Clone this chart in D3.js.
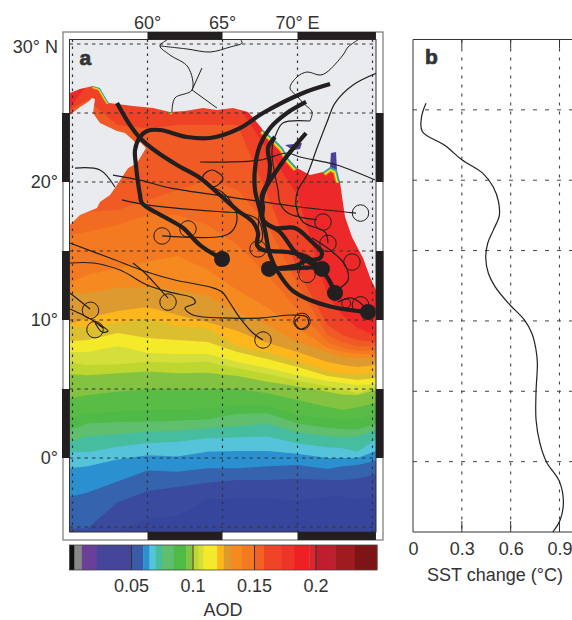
<!DOCTYPE html>
<html>
<head>
<meta charset="utf-8">
<script src="https://cdn.jsdelivr.net/npm/d3@7/dist/d3.min.js"></script>
<style>
html, body { margin: 0; padding: 0; background: #fff; }
svg { display: block; }
text { font-family: "Liberation Sans", Arial, sans-serif; fill: #333; }
</style>
</head>
<body>
<svg width="572" height="620"></svg>
<script>
var contourLons = [54.83, 56, 58, 60, 62, 64, 66, 68, 70, 72, 73, 74, 75.23];

// latitude of each contour at contourLons, south to north
var aodContours = [
    [-5.3, -5.3, -5.3, -4.4, -4.2, -3.0, -2.9, -2.9, -3.1, -2.8, -2.8, -3.0, -2.7],
    [-5.1, -5.1, -3.2, -2.4, -2.1, -1.8, -1.6, -1.6, -1.5, -1.6, -1.6, -1.5, -1.2],
    [-2.8, -2.5, -1.7, -0.9, -1.0, -0.75, -0.75, -0.6, -0.5, -0.8, -0.6, -0.5, -0.2],
    [-0.75, -0.6, -0.1, 0.2, 0.1, 0.45, 0.5, 0.5, 0.3, 0, 0, 0, 0.5],
    [0.46, 0.41, 0.82, 1.06, 1.18, 1.43, 1.5, 1.55, 1.06, 0.77, 0.7, 0.46, 1.35],
    [1.18, 1.6, 1.74, 1.9, 1.98, 2.15, 2.3, 2.5, 1.84, 1.6, 1.5, 1.55, 2.03],
    [2.03, 2.5, 2.6, 2.63, 2.7, 2.8, 3.2, 3.24, 2.5, 2.2, 2.08, 2.08, 2.46],
    [2.87, 3.2, 3.36, 3.48, 3.5, 3.6, 3.8, 3.77, 3.1, 2.87, 2.75, 2.8, 3.24],
    [4.32, 4.57, 4.8, 5, 5, 5, 5, 4.7, 4.2, 3.7, 3.5, 3.67, 4],
    [6.09, 6, 6.14, 6.26, 6.14, 6.18, 5.94, 5.53, 5.2, 4.8, 4.6, 4.57, 4.93],
    [6.9, 6.74, 6.8, 6.98, 6.9, 6.98, 6.5, 6.08, 5.6, 5.2, 5.0, 4.7, 5.17],
    [7.68, 7.68, 8.12, 7.6, 7.54, 7.54, 6.96, 6.52, 6.0, 5.58, 5.43, 5.29, 5.36],
    [8.48, 8.55, 9.06, 8.7, 8.55, 8.4, 7.68, 7.17, 6.6, 5.94, 5.8, 5.65, 5.8],
    [9.57, 9.49, 9.78, 10.07, 9.57, 9.42, 8.12, 7.68, 7.03, 6.3, 6.16, 6.09, 6.23],
    [9.71, 10.14, 10.65, 10.94, 10.36, 9.86, 9.2, 8.33, 7.68, 6.96, 6.74, 6.6, 6.74],
    [11.96, 11.96, 12.32, 12.39, 12.17, 11.74, 10.58, 9.64, 8.4, 7.68, 7.32, 7.25, 7.25],
    [12.68, 13.26, 13.77, 14.2, 14.64, 13.62, 12.17, 10.87, 9.42, 7.97, 7.68, 7.54, 7.54],
    [16.16, 16.38, 16.88, 17.6, 17.6, 16.88, 15.43, 13.26, 10.72, 8.4, 7.97, 7.75, 7.75],
    [17.6, 17.83, 17.97, 18.7, 19.42, 20.14, 19.42, 16.88, 12.54, 8.9, 8.4, 8.1, 8.1],
    [25.2, 25.94, 24.13, 23.9, 24.13, 24.13, 24.13, 19.06, 13.62, 9.64, 8.9, 8.55, 8.4],
    [25.36, 27.03, 25.94, 25.94, 25.94, 25.94, 25.58, 22.32, 19.06, 11.8, 10.36, 9.42, 8.84]
];

// one colour below each contour, the last one above the top contour
var bandColors = ["#36469c", "#3a4a9f", "#3563ad", "#2b90cf", "#55c3da", "#45bd9e", "#60bf6e",
    "#4fba47", "#58bc45", "#84c341", "#bed730", "#d5df3c", "#f4ea2a", "#dcbf2e", "#fdb71d",
    "#dd9a2e", "#f58b20", "#f47a22", "#f26b23", "#f05a25", "#ee4126", "#ec2829"];

var colorbarBreaks = [0, .004, .01, .022, .05, .06, .065, .0697, .0752, .0847, .095, .1, .105,
    .109, .12, .1255, .131, .14, .15, .158, .172, .183, .195, .2, .216, .232, .25];
var colorbarColors = ["#111", "#888", "#693f98", "#45459c", "#3a5ba8", "#2b90cf", "#55c3da",
    "#45bd9e", "#60bf6e", "#50ba47", "#84c341", "#bed730", "#d5df3c", "#f4ea2a", "#fdb71d",
    "#dd9a2e", "#f58b20", "#f47a22", "#f26323", "#ef4527", "#ee3327", "#ed2024", "#d9272e",
    "#be1e2d", "#9e1c20", "#7d1416"];
var colorbarTicks = [0.05, 0.1, 0.15, 0.2];

var arabiaCoast = [[54.83, 24.86], [55.5, 25.43], [56.03, 25.8], [56.3, 26.09], [56.5, 26.01],
    [56.37, 25.0], [56.83, 24.28], [57.97, 23.7], [58.5, 23.55], [59.17, 22.9], [59.5, 22.9],
    [59.9, 22.46], [59.3, 21.38], [58.7, 21.0], [57.83, 19.57], [57.5, 19.06], [56.83, 18.55],
    [56.63, 18.12], [55.5, 17.6], [54.83, 16.88], [54, 16.88], [54, 24.86]];
var northCoast = [[54.83, 26.45], [55.5, 26.74], [56.37, 26.96], [56.83, 26.81], [57.17, 26.16],
    [57.43, 25.72], [59.03, 25.5], [60.37, 25.36], [61.5, 25.07], [62.5, 25.14], [63.7, 25.36],
    [64.63, 25.22], [65.7, 25.36], [66.7, 25.07], [67.17, 24.49], [67.7, 23.77], [68.5, 23.04],
    [69.03, 22.46], [69.37, 21.74], [69.97, 21.01], [70.83, 20.5], [71.7, 20.72], [72.17, 21.09],
    [72.63, 20.87], [72.83, 20], [72.97, 18.91], [73.17, 17.46], [73.63, 16.01], [74.37, 14.49],
    [74.83, 13.12], [75.23, 12.17], [76, 12.17], [76, 31], [54, 31], [54, 26.45]];

// bright rings of the contours squeezed against the coast
var coastFringes = [
    [[56.37, 26.96], [56.83, 26.81], [57.17, 26.16], [57.43, 25.72]],
    [[61.37, 25.14], [61.63, 25.07]],
    [[67.7, 23.77], [68.5, 23.04], [69.03, 22.46], [69.37, 21.74], [69.97, 21.01]],
    [[71.7, 20.72], [72.17, 21.09], [72.63, 20.87], [72.83, 20]]
];
var fringeColors = ["#f58b20", "#f4ea2a", "#50ba47", "#2b90cf"];
var fringeWidths = [9, 6.5, 4, 2];
var gulfPatches = [
    [[69.17, 22.68], [70.3, 22.83], [70.17, 22.39], [69.7, 22.3]],
    [[72.17, 21.09], [72.23, 22.1], [72.57, 22.17], [72.63, 20.87]]
];

var borders = [
    [[61.3, 30.29], [60.83, 29.86], [61.5, 29.2], [62.7, 28.33], [62.97, 26.67], [61.83, 26.09], [61.63, 25.07]],
    [[60.83, 29.86], [62.63, 29.64], [64.17, 29.42], [65.5, 29.78], [66.3, 30.07], [66.23, 30.29]],
    [[62.97, 26.67], [64.63, 25.36]],
    [[63.63, 28.26], [62.97, 26.67]],
    [[74.03, 30.29], [73.37, 29.78], [73.03, 29.2], [71.97, 27.97], [71.5, 27.75], [70.63, 27.97],
        [69.97, 27.61], [69.5, 26.81], [70.03, 26.16], [70.37, 25.72], [70.97, 25.07], [70.83, 24.42]]
];

var thinTracks = [
    [[57.7, 20.5], [59.5, 20.14], [61.5, 19.57], [65.5, 18.91], [70.17, 18.19], [73.9, 17.75]],
    [[58.3, 18.7], [60.03, 18.33], [65.03, 17.83], [66.17, 17.75], [67.37, 17.25], [67.63, 15.8], [67.17, 15.43]],
    [[60.97, 16.09], [65.03, 16.09], [65.7, 16.52], [65.97, 17.46], [65.63, 18.48], [64.97, 19.28],
        [63.83, 19.93], [63.7, 20.43], [64.3, 20.87], [65.03, 20.29], [64.43, 19.64], [63.7, 20.14]],
    [[59.03, 14.13], [59.83, 13.41], [60.7, 12.39], [61.37, 11.59]],
    [[54.83, 15.58], [57.5, 14.49], [59.97, 13.48], [61.83, 12.9], [64.17, 12.39], [64.97, 12.03],
        [65.5, 11.23], [66.17, 10.14], [67.03, 9.06], [67.7, 8.55]],
    [[54.83, 14.13], [56.37, 14.13], [58.17, 13.62], [59.97, 12.54], [61.7, 11.96], [63.03, 11.59],
        [63.17, 11.23], [62.5, 10.87], [63.03, 10.36], [65.5, 10.14], [67.5, 10.14], [69.7, 10.36],
        [70.63, 10.22], [70.7, 9.64], [70.17, 9.35], [69.83, 9.86], [70.17, 10.22]],
    [[54.83, 11.96], [56.17, 10.8]],
    [[54.83, 10.8], [55.7, 10.36], [56.63, 9.78], [57.37, 9.2], [56.97, 9.13], [56.5, 9.86], [57.03, 9.42], [56.77, 9.71]],
    [[70.83, 24.42], [69.03, 24.28], [68.63, 23.62], [68.3, 22.32], [68.5, 20.5], [68.7, 19.42],
        [68.83, 18.48], [69.37, 17.75], [71.3, 17.25]],
    [[75.3, 27.9], [73.7, 27.03], [72.5, 25.72], [71.97, 24.35], [71.3, 22.46], [70.63, 20.5],
        [70.03, 19.42], [69.9, 18.33], [70.37, 17.1], [71.83, 16.38], [72.03, 15.58]],
    [[70.97, 15.94], [72.17, 15.07], [73.17, 13.99], [73.37, 12.9], [72.83, 12.32]],
    [[63.5, 21.45], [67.5, 21.59], [69.3, 22.1], [70.17, 21.81], [72.63, 21.23], [75.17, 20.14]],
    [[67.37, 15.65], [67.63, 18.7], [68.97, 21.23], [70.17, 22.83]],
    [[70.17, 14.35], [70.63, 13.62]],
    [[72.7, 11.3], [73.63, 11.59], [74.7, 10.72]],
    [[55.17, 21.01], [56.83, 20.87], [57.83, 19.64]]
];

var thickTracks = [
    [[57.97, 25.72], [58.7, 24.35], [59.5, 23.19], [60.63, 22.17], [61.97, 21.23], [63.5, 20.29],
        [64.83, 19.06], [65.97, 17.97], [67.03, 17.1], [67.37, 16.3], [67.3, 15.43], [67.7, 15.07],
        [69.3, 14.93], [70.63, 14.57], [71.97, 13.12], [72.5, 11.96]],
    [[72.17, 27.1], [70.37, 26.45], [67.7, 25], [66.17, 23.91], [64.17, 23.19], [62.63, 23.26],
        [60.83, 23.77], [59.97, 23.7], [59.5, 23.26], [59.17, 22.32], [59.23, 21.23], [59.5, 19.06],
        [59.63, 18.48], [61.5, 17.25], [62.37, 16.67], [63.5, 15.43], [64.97, 14.42]],
    [[70.57, 25.8], [69.3, 25], [68.17, 23.91], [67.5, 22.68], [67.17, 21.01], [67.17, 19.42],
        [67.5, 17.97], [67.83, 16.52], [68.17, 14.71], [68.7, 13.48], [69.63, 12.17], [70.83, 11.45],
        [72.63, 10.87], [74.7, 10.58]],
    [[70.57, 23.55], [69.5, 22.17], [68.63, 20.87], [67.63, 19.06], [67.7, 18.19], [67.7, 17.25],
        [68.5, 16.67], [69.83, 16.67], [70.97, 15.65], [71.63, 14.86], [71.5, 14.49], [70.5, 14.28],
        [70.03, 13.99], [68.83, 13.77], [68.1, 13.7]],
    [[68.5, 23.26], [68.03, 22.46], [68.17, 21.23], [68.03, 20], [67.7, 19.06], [67.7, 17.25],
        [68.83, 16.38], [70.03, 14.71], [71.63, 13.7]],
    [[68.83, 13.7], [71.63, 13.84]]
];

var endDots = [[64.97, 14.42], [68.1, 13.7], [71.63, 13.7], [72.5, 11.96], [74.7, 10.58]];
// [lon, lat, radius in degrees of longitude]
var startRings = [[60.97, 16.09, .55], [62.7, 16.6, .55], [61.37, 11.3, .55], [56.2, 10.7, .55],
    [56.5, 9.3, .55], [67.7, 8.55, .55], [70.3, 9.9, .55], [74.2, 17.75, .55], [71.7, 17.1, .55],
    [72.03, 15.55, .55], [73.63, 14.2, .55], [67.37, 15.15, .55], [70.63, 13.3, .55],
    [73.25, 11.2, .3], [74.2, 11.1, .55]];

var sstLat = [25.47, 24.53, 23.46, 22.46, 21.45, 20.5, 19.5, 18.48, 17.49, 16.47, 15.52, 14.45,
    13.39, 12.44, 11.26, 10.07, 9.12, 8.06, 6.99, 5, 2.96, 1.3, -0.02, -1.42, -2.84, -4.15, -5];
var sstChange = [.08, .053, .057, .197, .30, .428, .494, .525, .53, .494, .459, .447,
    .463, .504, .586, .684, .73, .754, .764, .756, .756, .78, .82, .90, .924, .904, .859];

var lonTicks = [60, 65, 70];
var latTicks = [30, 20, 10, 0];
var gridLons = [55, 60, 65, 70, 75];
var gridLats = [30, 25, 20, 15, 10, 5, 0, -5];
var sstTicks = [0, 0.3, 0.6, 0.9];

var svg = d3.select("svg");

var x = d3.scaleLinear().domain([55, 75]).range([72.5, 372.5]);
var y = d3.scaleLinear().domain([-5, 30]).range([527, 44]);
var mapLeft = x(54.8), mapRight = 376, mapTop = 39.5, mapBottom = 532;

svg.append("clipPath").attr("id", "mapClip").append("rect")
    .attr("x", mapLeft).attr("y", mapTop)
    .attr("width", mapRight - mapLeft).attr("height", mapBottom - mapTop);

var map = svg.append("g").attr("clip-path", "url(#mapClip)");
var line = d3.line().x(d => x(d[0])).y(d => y(d[1]));
var smooth = d3.line().x(d => x(d[0])).y(d => y(d[1])).curve(d3.curveCatmullRom);

// paint from the north down, each band covers everything south of its contour
map.append("rect")
    .attr("x", mapLeft).attr("y", mapTop)
    .attr("width", mapRight - mapLeft).attr("height", mapBottom - mapTop)
    .attr("fill", bandColors[bandColors.length - 1]);

for (var i = aodContours.length - 1; i >= 0; i--) {
    var area = d3.area()
        .x((d, j) => x(contourLons[j]))
        .y0(mapBottom + 2)
        .y1(d => y(d));
    map.append("path")
        .attr("d", area(aodContours[i]))
        .attr("fill", bandColors[i]);
}

fringeColors.forEach(function(c, k) {
    map.selectAll(null).data(coastFringes).enter().append("path")
        .attr("d", line)
        .attr("fill", "none")
        .attr("stroke", c)
        .attr("stroke-width", (d, n) => n == 2 || n == 3 ? fringeWidths[k] : fringeWidths[k] * 0.6);
});

map.selectAll(null).data([arabiaCoast, northCoast]).enter().append("path")
    .attr("d", d => line(d) + "Z")
    .attr("fill", "#e9ebee");

map.selectAll(null).data(gulfPatches).enter().append("path")
    .attr("d", d => line(d) + "Z")
    .attr("fill", "#4d4199");

// dashed graticule
map.selectAll(null).data(gridLons).enter().append("line")
    .attr("x1", d => x(d)).attr("x2", d => x(d))
    .attr("y1", mapTop).attr("y2", mapBottom)
    .attr("stroke", "#333").attr("stroke-width", 1.2).attr("stroke-dasharray", "2.5 4.5");
map.selectAll(null).data(gridLats).enter().append("line")
    .attr("x1", mapLeft).attr("x2", mapRight)
    .attr("y1", d => y(d)).attr("y2", d => y(d))
    .attr("stroke", "#333").attr("stroke-width", 1).attr("stroke-dasharray", "3.5 4");

map.selectAll(null).data(borders).enter().append("path")
    .attr("d", smooth)
    .attr("fill", "none").attr("stroke", "#231f20").attr("stroke-width", 1);
map.selectAll(null).data(thinTracks).enter().append("path")
    .attr("d", smooth)
    .attr("fill", "none").attr("stroke", "#231f20").attr("stroke-width", 1.2);
map.selectAll(null).data(startRings).enter().append("circle")
    .attr("cx", d => x(d[0])).attr("cy", d => y(d[1]))
    .attr("r", d => x(d[2]) - x(0))
    .attr("fill", "none").attr("stroke", "#231f20").attr("stroke-width", 1);
map.selectAll(null).data(thickTracks).enter().append("path")
    .attr("d", smooth)
    .attr("fill", "none").attr("stroke", "#231f20").attr("stroke-width", 4.2);
map.selectAll(null).data(endDots).enter().append("circle")
    .attr("cx", d => x(d[0])).attr("cy", d => y(d[1]))
    .attr("r", 8)
    .attr("fill", "#231f20");

// map frame with the alternating black and white bars
svg.append("rect")
    .attr("x", 63).attr("y", 32).attr("width", 320).attr("height", 508)
    .attr("fill", "none").attr("stroke", "#777").attr("stroke-width", 1.2);
svg.append("rect")
    .attr("x", mapLeft).attr("y", mapTop)
    .attr("width", mapRight - mapLeft).attr("height", mapBottom - mapTop)
    .attr("fill", "none").attr("stroke", "#333").attr("stroke-width", 1);

[[60, 65], [70, 75.23]].forEach(function(d) {
    svg.append("rect").attr("x", x(d[0])).attr("y", 32)
        .attr("width", x(d[1]) - x(d[0])).attr("height", 7.5).attr("fill", "#231f20");
    svg.append("rect").attr("x", x(d[0])).attr("y", mapBottom)
        .attr("width", x(d[1]) - x(d[0])).attr("height", 8).attr("fill", "#231f20");
});
[[25, 20], [15, 10], [5, 0]].forEach(function(d) {
    svg.append("rect").attr("x", 62).attr("y", y(d[0]))
        .attr("width", mapLeft - 62).attr("height", y(d[1]) - y(d[0])).attr("fill", "#231f20");
    svg.append("rect").attr("x", mapRight).attr("y", y(d[0]))
        .attr("width", 7.5).attr("height", y(d[1]) - y(d[0])).attr("fill", "#231f20");
});

var fontSize = 18;
svg.selectAll(null).data(lonTicks).enter().append("text")
    .attr("x", d => x(d)).attr("y", 29)
    .attr("text-anchor", "middle").attr("font-size", fontSize)
    .text(d => d + "°" + (d == 70 ? " E" : ""));
svg.selectAll(null).data(latTicks).enter().append("text")
    .attr("x", 58).attr("y", d => d == 30 ? 53 : y(d) + 6)
    .attr("text-anchor", "end").attr("font-size", fontSize)
    .text(d => d + "°" + (d == 30 ? " N" : ""));

svg.append("text").attr("x", 79.5).attr("y", 64.5)
    .attr("font-size", 21).attr("font-weight", "bold")
    .attr("stroke", "#333").attr("stroke-width", 0.7).text("a");
svg.append("text").attr("x", 425).attr("y", 63.5)
    .attr("font-size", 21).attr("font-weight", "bold")
    .attr("stroke", "#333").attr("stroke-width", 0.7).text("b");

// colour bar
var barX = d3.scaleLinear().domain([0, 0.25]).range([69.5, 377]);
svg.selectAll(null).data(colorbarColors).enter().append("rect")
    .attr("x", (d, i) => barX(colorbarBreaks[i]))
    .attr("width", (d, i) => barX(colorbarBreaks[i + 1]) - barX(colorbarBreaks[i]) + .4)
    .attr("y", 545).attr("height", 25)
    .attr("fill", d => d);
svg.append("rect").attr("x", 69.5).attr("y", 545).attr("width", 307.5).attr("height", 25)
    .attr("fill", "none").attr("stroke", "#444").attr("stroke-width", .8);

var barAxis = svg.append("g").attr("transform", "translate(0,570)")
    .call(d3.axisBottom(barX).tickValues(colorbarTicks).tickSize(25).tickPadding(-3)
        .tickFormat(d => d));
barAxis.select(".domain").remove();
barAxis.selectAll("line").attr("y1", -25).attr("y2", 0).attr("stroke", "#333");
barAxis.selectAll("text").attr("y", 22).attr("dy", 0).attr("font-size", fontSize)
    .style("fill", "#333");

svg.append("text").attr("x", 223).attr("y", 616)
    .attr("text-anchor", "middle").attr("font-size", fontSize).text("AOD");

// panel b
var sstX = d3.scaleLinear().domain([0, 0.9]).range([413, 559.5]);
var sstY = d3.scaleLinear().domain([-5, 30]).range([532, 39.5]);

svg.selectAll(null).data(sstTicks.slice(1)).enter().append("line")
    .attr("x1", d => sstX(d)).attr("x2", d => sstX(d))
    .attr("y1", 39.5).attr("y2", 532)
    .attr("stroke", "#444").attr("stroke-width", 1.1).attr("stroke-dasharray", "3 6");
svg.selectAll(null).data(gridLats.slice(1, -1)).enter().append("line")
    .attr("x1", 413).attr("x2", 572)
    .attr("y1", d => sstY(d)).attr("y2", d => sstY(d))
    .attr("stroke", "#444").attr("stroke-width", 1).attr("stroke-dasharray", "4 8");

svg.append("path")
    .attr("d", "M572,39.5H413V532H572")
    .attr("fill", "none").attr("stroke", "#333").attr("stroke-width", 1);
svg.selectAll(null).data(sstTicks.slice(1)).enter().append("path")
    .attr("d", d => "M" + sstX(d) + ",39.5v9M" + sstX(d) + ",532v-11")
    .attr("stroke", "#333").attr("stroke-width", 1);

svg.append("path")
    .datum(d3.zip(sstChange, sstLat))
    .attr("d", d3.line().x(d => sstX(d[0])).y(d => sstY(d[1])).curve(d3.curveCatmullRom))
    .attr("fill", "none").attr("stroke", "#231f20").attr("stroke-width", 1.2);

var sstAxis = svg.append("g").attr("transform", "translate(0,532)")
    .call(d3.axisBottom(sstX).tickValues(sstTicks).tickSize(0).tickFormat(d => d));
sstAxis.select(".domain").remove();
sstAxis.selectAll("text").attr("y", 23).attr("dy", 0).attr("font-size", fontSize)
    .style("fill", "#333");

svg.append("text").attr("x", 495).attr("y", 581)
    .attr("text-anchor", "middle").attr("font-size", fontSize).text("SST change (°C)");

d3.selectAll("g text").attr("font-family", null);
</script>
</body>
</html>
